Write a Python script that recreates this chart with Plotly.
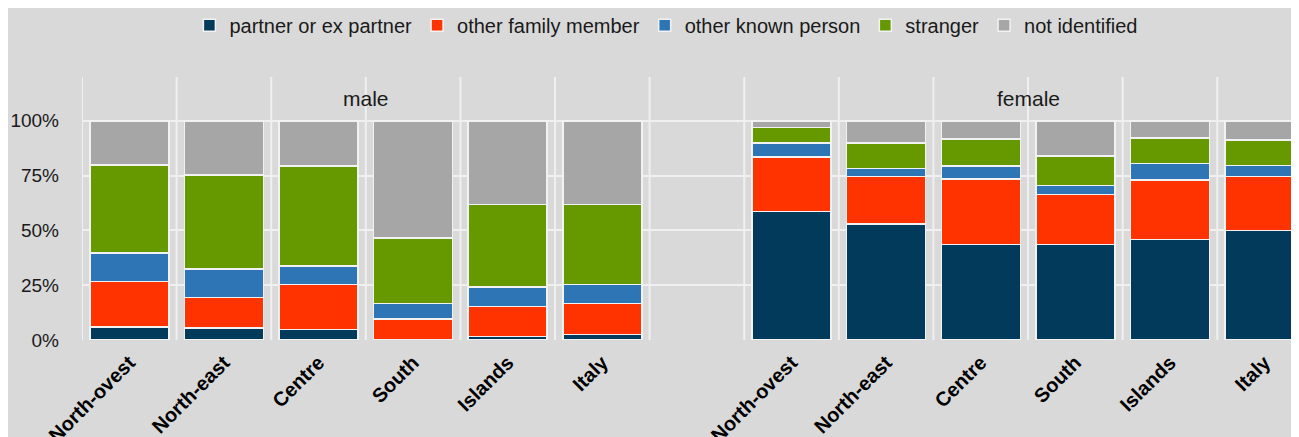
import plotly.graph_objects as go

regions = ["North-ovest", "North-east", "Centre", "South", "Islands", "Italy"]
groups = ["male", "female"]
series_names = ["partner or ex partner", "other family member", "other known person",
                "stranger", "not identified"]
colors = ["#023A5C", "#FF3300", "#2E75B6", "#669900", "#A6A6A6"]

# percentages, male
partner_male = [5.9, 5.5, 4.9, 0.3, 1.5, 2.4]
family_male = [20.8, 14.0, 20.4, 9.3, 13.9, 14.2]
known_male = [12.9, 13.0, 8.4, 7.0, 8.8, 8.7]
stranger_male = [40.3, 42.8, 45.7, 29.9, 37.7, 36.6]
notid_male = [20.1, 24.7, 20.6, 53.5, 38.1, 38.1]

# percentages, female
partner_female = [58.7, 53.0, 43.6, 43.6, 45.9, 50.0]
family_female = [24.8, 21.7, 29.9, 22.9, 27.0, 24.7]
known_female = [6.3, 3.5, 5.8, 4.1, 7.6, 5.0]
stranger_female = [7.2, 11.7, 12.3, 13.4, 11.7, 11.5]
notid_female = [3.0, 10.1, 8.4, 16.0, 7.8, 8.8]

yticks = [0, 25, 50, 75, 100]
ytick_labels = ["0%", "25%", "50%", "75%", "100%"]

male_vals = [partner_male, family_male, known_male, stranger_male, notid_male]
female_vals = [partner_female, family_female, known_female, stranger_female, notid_female]

n = len(regions)
x_male = list(range(n))
x_female = [i + n + 1 for i in range(n)]
xs = x_male + x_female

BG = "#D9D9D9"
GRID = "#F0F0F0"
FONT = "Liberation Sans, Arial, sans-serif"

fig = go.Figure()
for name, col, mv, fv in zip(series_names, colors, male_vals, female_vals):
    fig.add_trace(go.Bar(
        x=xs, y=mv + fv, name=name, width=0.835,
        marker=dict(color=col, line=dict(color="#F2F2F2", width=1.5)),
    ))

shapes = []
for k in range(2 * n + 2):
    shapes.append(dict(type="line", xref="x", yref="y", x0=k - 0.5, x1=k - 0.5,
                       y0=0, y1=120, layer="below",
                       line=dict(color=GRID, width=2)))

annotations = [
    dict(x=(n - 1) / 2, y=110, xref="x", yref="y", text=groups[0], showarrow=False,
         font=dict(family=FONT, size=21, color="#1A1A1A")),
    dict(x=n + 1 + (n - 1) / 2, y=110, xref="x", yref="y", text=groups[1], showarrow=False,
         font=dict(family=FONT, size=21, color="#1A1A1A")),
]

fig.update_layout(
    barmode="stack",
    width=1291, height=429,
    margin=dict(l=74, r=0, t=69, b=97),
    paper_bgcolor=BG, plot_bgcolor=BG,
    shapes=shapes, annotations=annotations,
    legend=dict(orientation="h", xref="container", yref="container",
                x=0.510, y=0.960, xanchor="center", yanchor="middle",
                font=dict(family=FONT, size=20, color="#1A1A1A"),
                bgcolor="rgba(0,0,0,0)", itemwidth=30, traceorder="normal"),
    xaxis=dict(range=[-0.5, 12.364], tickmode="array", tickvals=xs,
               ticktext=regions + regions, tickangle=-45, showgrid=False,
               zeroline=False, showline=False, automargin=False,
               ticklabelstandoff=6,
               tickfont=dict(family=FONT, size=20, color="#000000", weight="bold")),
    yaxis=dict(range=[0, 120], tickmode="array", tickvals=yticks + [120],
               ticktext=ytick_labels + [""], showgrid=True, gridcolor=GRID,
               gridwidth=2, zeroline=False, showline=False, ticklabelstandoff=22,
               automargin=False,
               tickfont=dict(family=FONT, size=19, color="#1A1A1A")),
)

fig.write_html("out.html")
